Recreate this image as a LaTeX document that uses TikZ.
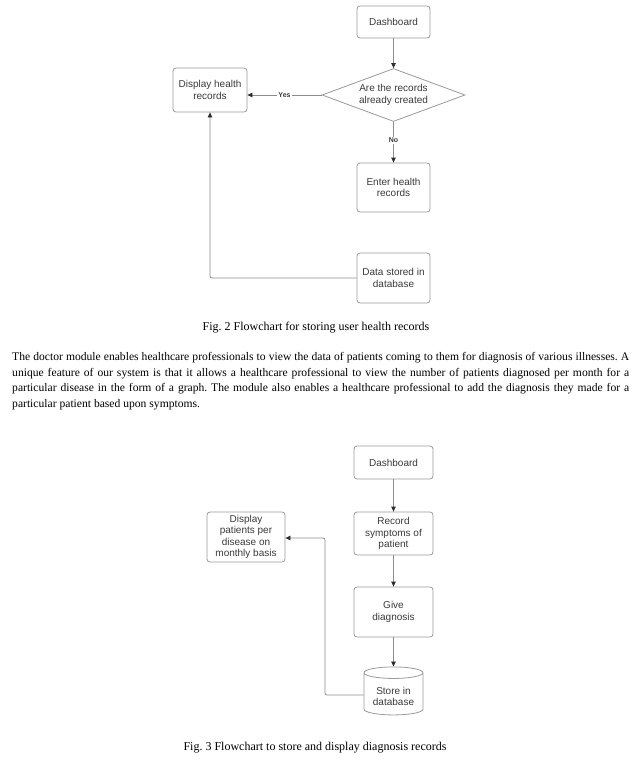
\documentclass[tikz,border=0pt]{standalone}
\usepackage{fontspec}
\setmainfont{Liberation Serif}
\setsansfont{Liberation Sans}
\usetikzlibrary{shapes.geometric,arrows.meta}
\frenchspacing
\definecolor{boxline}{HTML}{9A9A9A}
\definecolor{boxtext}{HTML}{3A3A3A}
\definecolor{conn}{HTML}{8C8C8C}
\definecolor{tipc}{HTML}{2E2E2E}
\tikzset{
  box/.style={draw=boxline, line width=0.8pt, rounded corners=3pt, text=boxtext,
    font=\sffamily\fontsize{10}{11.5}\selectfont, align=center, inner sep=2pt},
  decision/.style={diamond, draw=boxline, line width=0.8pt, text=boxtext,
    font=\sffamily\fontsize{10}{11.5}\selectfont, align=center, inner sep=0pt,
    aspect=2.7, minimum width=143pt, minimum height=53pt},
  dbase/.style={cylinder, shape border rotate=90, draw=boxline, line width=0.8pt,
    text=boxtext, font=\sffamily\fontsize{10}{11.5}\selectfont, align=center,
    aspect=0.28, minimum width=59pt, minimum height=48pt, inner sep=0pt},
  conn/.style={draw=conn, line width=0.8pt, -{Triangle[length=5pt,width=4.5pt,color=tipc]}},
  elabel/.style={fill=white, inner sep=1pt, text=boxtext, font=\sffamily\bfseries\fontsize{7}{8}\selectfont},
  caption/.style={font=\fontsize{12}{14}\selectfont, inner sep=0pt},
}
\begin{document}
\begin{tikzpicture}[x=1pt,y=-1pt]
\useasboundingbox[fill=white] (0,0) rectangle (637,760);
% Fig. 2
\node[box, minimum width=73pt, minimum height=32pt] (dash1) at (393.5,22) {Dashboard};
\node[decision] (q) at (393.5,95) {Are the records\\already created};
\node[box, minimum width=74pt, minimum height=44pt] (disp1) at (210,90) {Display health\\records};
\node[box, minimum width=73pt, minimum height=49pt] (enter) at (393.5,187.5) {Enter health\\records};
\node[box, minimum width=73pt, minimum height=50pt] (store1) at (393.5,278) {Data stored in\\database};
\draw[conn] (dash1) -- (q);
\draw[conn] (q.west) -- node[elabel, pos=0.5] (yes) {Yes} (disp1.east |- q.west);
\draw[conn] (q.south) -- node[elabel, pos=0.45] (no) {No} (enter.north);
\draw[conn, rounded corners=2pt] (store1.west) -| (disp1.south);
\node[caption] (cap2) at (316,328) {Fig. 2 Flowchart for storing user health records};
% paragraph
\node[anchor=north west, inner sep=0pt, text width=617pt, align=justify,
  font=\fontsize{11.6}{15.7}\selectfont] (para) at (12,352)
  {The doctor module enables healthcare professionals to view the data of patients coming to them for diagnosis of various illnesses. A\linebreak
   unique feature of our system is that it allows a healthcare professional to view the number of patients diagnosed per month for a\linebreak
   particular disease in the form of a graph. The module also enables a healthcare professional to add the diagnosis they made for a\linebreak
   particular patient based upon symptoms.};
% Fig. 3
\node[box, minimum width=79pt, minimum height=33pt] (dash2) at (393.5,462.5) {Dashboard};
\node[box, minimum width=79pt, minimum height=43pt] (rec) at (393.5,533.5) {Record\\symptoms of\\patient};
\node[box, minimum width=78pt, minimum height=50pt] (disp2) at (246,537) {Display\\patients per\\disease on\\monthly basis};
\node[box, minimum width=79pt, minimum height=50pt] (give) at (393.5,612) {Give\\diagnosis};
\node[dbase] (db) at (393.5,694) {\\[1pt]Store in\\database};
\draw[conn] (dash2) -- (rec);
\draw[conn] (rec) -- (give);
\draw[conn] (give) -- (db.top);
\coordinate (turn) at (325,538);
\draw[conn, rounded corners=2pt] (db.west |- 0,695) -| (turn) -- (disp2.east |- turn);
\node[caption] (cap3) at (315,748) {Fig. 3 Flowchart to store and display diagnosis records};
\end{tikzpicture}
\end{document}
